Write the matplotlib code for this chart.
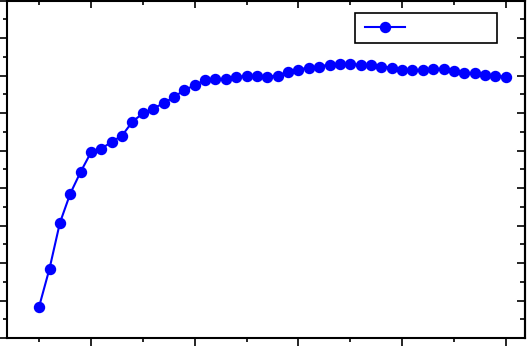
import numpy as np
from matplotlib import pyplot as plt
from matplotlib.ticker import MultipleLocator

# 数据 (从图上读取, 无刻度标签, 单位为任意值)
x_vals = list(range(5, 51))
y_vals = [8.4, 18.5, 30.7, 38.5, 44.3, 49.5, 50.5, 52.3, 54.0, 57.7,
          59.9, 61.2, 62.6, 64.3, 66.1, 67.4, 68.8, 69.0, 69.2, 69.6,
          69.9, 69.8, 69.7, 70.0, 71.0, 71.6, 72.1, 72.4, 72.9, 73.1,
          73.0, 72.9, 72.7, 72.4, 72.1, 71.6, 71.4, 71.6, 71.8, 71.8,
          71.3, 70.8, 70.6, 70.2, 69.9, 69.7]
series_label = " "

fig = plt.figure(figsize=(5.28, 3.47), dpi=100)
ax = fig.add_axes([7 / 528, 9 / 347, 518 / 528, 337.5 / 347])

ax.plot(x_vals, y_vals, color='#0000ff', lw=1.5, marker='o', ms=7.2,
        markeredgecolor='#0000ff', label=series_label)

ax.set_xlim(1.9, 51.85)
ax.set_ylim(0, 90)

for s in ax.spines.values():
    s.set_linewidth(1.5)

# 底部/左侧刻度向外
ax.xaxis.set_major_locator(MultipleLocator(10))
ax.xaxis.set_minor_locator(MultipleLocator(5))
ax.yaxis.set_major_locator(MultipleLocator(10))
ax.yaxis.set_minor_locator(MultipleLocator(5))
ax.tick_params(which='both', direction='out', width=1.2, labelbottom=False, labelleft=False)
ax.tick_params(which='major', length=6)
ax.tick_params(which='minor', length=3)

# 顶部/右侧刻度向内
top = ax.secondary_xaxis('top')
top.xaxis.set_major_locator(MultipleLocator(10))
top.xaxis.set_minor_locator(MultipleLocator(5))
right = ax.secondary_yaxis('right')
right.yaxis.set_major_locator(MultipleLocator(10))
right.yaxis.set_minor_locator(MultipleLocator(5))
for sec in (top, right):
    sec.tick_params(which='both', direction='in', width=1.2, labeltop=False, labelright=False)
    sec.tick_params(which='major', length=6)
    sec.tick_params(which='minor', length=3.5)
    for s in sec.spines.values():
        s.set_linewidth(1.5)

leg = ax.legend(loc='lower left', bbox_to_anchor=(0.672, 0.873, 0.2745, 0.083),
                mode='expand', fontsize=8, handlelength=3.6, borderpad=0.9,
                borderaxespad=0, fancybox=False, framealpha=1, edgecolor='black')
leg.get_frame().set_linewidth(1.2)

plt.savefig('out.png', dpi=100)
